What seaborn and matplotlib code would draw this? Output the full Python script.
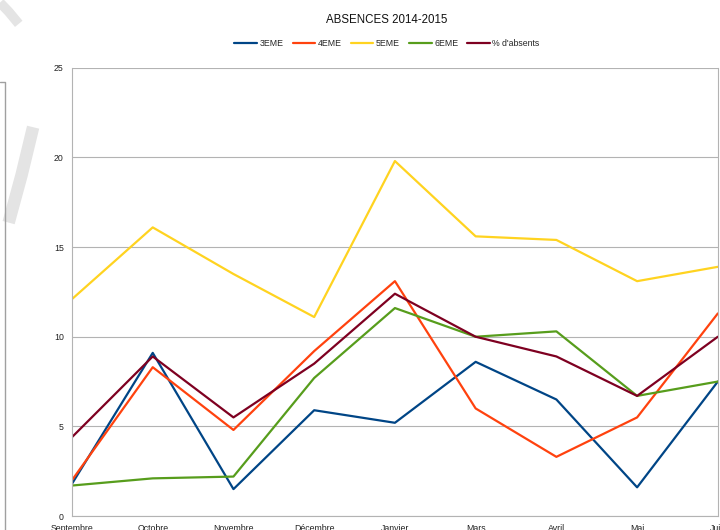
import matplotlib
matplotlib.use("Agg")
import matplotlib.pyplot as plt
import seaborn as sns
import pandas as pd
from matplotlib.lines import Line2D

# Données
mois = ["Septembre", "Octobre", "Novembre", "Décembre", "Janvier", "Mars", "Avril", "Mai", "Juin"]
eme3 = [1.8, 9.1, 1.5, 5.9, 5.2, 8.6, 6.5, 1.6, 7.5]
eme4 = [2.0, 8.3, 4.8, 9.2, 13.1, 6.0, 3.3, 5.5, 11.3]
eme5 = [12.1, 16.1, 13.5, 11.1, 19.8, 15.6, 15.4, 13.1, 13.9]
eme6 = [1.7, 2.1, 2.2, 7.7, 11.6, 10.0, 10.3, 6.7, 7.5]
pct_absents = [4.4, 8.9, 5.5, 8.5, 12.4, 10.0, 8.9, 6.7, 10.0]

series = ["3EME", "4EME", "5EME", "6EME", "% d'absents"]
couleurs = ["#004586", "#ff420e", "#ffd320", "#579d1c", "#7e0021"]

rows = []
for nom, vals in zip(series, [eme3, eme4, eme5, eme6, pct_absents]):
    for i, v in enumerate(vals):
        rows.append({"pos": i, "serie": nom, "valeur": v})
df = pd.DataFrame(rows)

sns.set_style("white")
plt.rcParams['font.family'] = ['Liberation Sans', 'DejaVu Sans']

fig = plt.figure(figsize=(7.2, 5.3), dpi=100)

# filigrane gris clair en haut à gauche (coupé)
fig.add_artist(Line2D([0.0, 0.012, 0.026], [0.995, 0.978, 0.955], color="#e4e4e4", lw=7, solid_capstyle="butt"))
fig.add_artist(Line2D([0.046, 0.030, 0.012], [0.76, 0.67, 0.58], color="#e4e4e4", lw=9, solid_capstyle="butt"))

ax = fig.add_axes([0.1, 0.0264, 0.897, 0.8456])

sns.lineplot(data=df, x="pos", y="valeur", hue="serie", hue_order=series,
             palette=couleurs, linewidth=1.6, sort=False, legend=False, ax=ax)

ax.set_xlim(0, len(mois) - 1)
ax.set_ylim(0, 25)
ax.set_xticks(range(len(mois)))
ax.set_xticklabels(mois, fontsize=6.3, color="#222222")
ax.set_yticks([0, 5, 10, 15, 20, 25])
ax.tick_params(axis="both", labelsize=6.3, length=4, width=0.8,
               direction="out", color="#b3b3b3", labelcolor="#222222", pad=2)
ax.set_xlabel("")
ax.set_ylabel("")
ax.grid(axis="y", color="#b3b3b3", linewidth=0.8)
ax.set_axisbelow(True)
for s in ["left", "bottom", "right"]:
    ax.spines[s].set_color("#b3b3b3")
    ax.spines[s].set_linewidth(0.8)
    ax.spines[s].set_visible(True)
ax.spines["top"].set_visible(False)

fig.text(0.5375, 0.962, "ABSENCES 2014-2015", ha="center", va="center", fontsize=8.3, color="#111111")

handles = [Line2D([0], [0], color=c, lw=1.6) for c in couleurs]
fig.legend(handles, series, loc="center", bbox_to_anchor=(0.5375, 0.917), ncol=5,
           frameon=False, fontsize=6.3, handlelength=2.6, handletextpad=0.3,
           columnspacing=1.0)

# cadre gris à gauche (élément voisin coupé)
fig.add_artist(Line2D([0.0, 0.007, 0.007], [0.845, 0.845, 0.0], color="#a0a0a0", lw=1.0))

fig.savefig("out.png", dpi=100)
